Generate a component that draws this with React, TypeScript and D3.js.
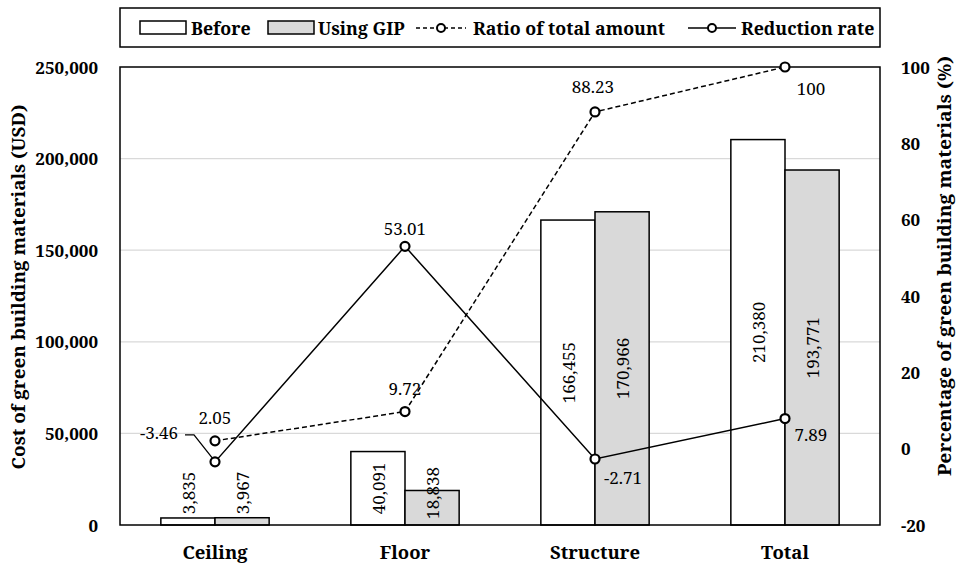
import React from "react";
import * as d3 from "d3";

const categories = ["Ceiling", "Floor", "Structure", "Total"];
const before = [3835, 40091, 166455, 210380];
const usingGIP = [3967, 18838, 170966, 193771];
const ratioTotal = [2.05, 9.72, 88.23, 100];
const reductionRate = [-3.46, 53.01, -2.71, 7.89];
const leftTicks = [0, 50000, 100000, 150000, 200000, 250000];
const rightTicks = [-20, 0, 20, 40, 60, 80, 100];

const W = 957, H = 568;
const M = { left: 120, right: 880, top: 67, bottom: 525 };
const FONT = "Noto Serif, Liberation Serif, serif";

export default function App() {
  const x = d3.scaleBand<string>().domain(categories).range([M.left, M.right]).paddingInner(0).paddingOuter(0);
  const yL = d3.scaleLinear().domain([0, 250000]).range([M.bottom, M.top]);
  const yR = d3.scaleLinear().domain([-20, 100]).range([M.bottom, M.top]);
  const bw = x.bandwidth() * 0.285;
  const cx = (c: string) => (x(c) as number) + x.bandwidth() / 2;
  const fmt = d3.format(",");

  const line = d3.line<number>().x((_, i) => cx(categories[i])).y((d) => yR(d));

  const ratioLab: [number, number, string][] = [[0, -21, "middle"], [0, -21, "middle"], [-2, -23, "middle"], [26, 23, "middle"]];
  const redLab: [number, number, string][] = [[-37, -27, "end"], [0, -16, "middle"], [28, 20, "middle"], [26, 18, "middle"]];

  const barLabelY = (v: number) => {
    const c = (yL(v) + yL(0)) / 2;
    return Math.min(c, yL(0) - 32);
  };

  return (
    <svg width={W} height={H} style={{ position: "absolute", left: 0, top: 0, background: "#fff", fontFamily: FONT }}>
      {leftTicks.slice(1, -1).map((t) => (
        <line key={t} x1={M.left} x2={M.right} y1={yL(t)} y2={yL(t)} stroke="#d9d9d9" strokeWidth={1.2} />
      ))}
      {categories.map((c, i) => (
        <g key={c}>
          <rect x={cx(c) - bw} y={yL(before[i])} width={bw} height={yL(0) - yL(before[i])} fill="#fff" stroke="#000" strokeWidth={1.5} />
          <rect x={cx(c)} y={yL(usingGIP[i])} width={bw} height={yL(0) - yL(usingGIP[i])} fill="#d9d9d9" stroke="#000" strokeWidth={1.5} />
        </g>
      ))}
      {categories.map((c, i) => (
        <g key={"bl" + c} style={{ fontSize: 17 }}>
          <text transform={`translate(${cx(c) - bw / 2 + 7},${barLabelY(before[i])}) rotate(-90)`} textAnchor="middle">{fmt(before[i])}</text>
          <text transform={`translate(${cx(c) + bw / 2 + 7},${barLabelY(usingGIP[i])}) rotate(-90)`} textAnchor="middle">{fmt(usingGIP[i])}</text>
        </g>
      ))}
      <rect x={M.left} y={M.top} width={M.right - M.left} height={M.bottom - M.top} fill="none" stroke="#000" strokeWidth={1.5} />
      <path d={line(ratioTotal) || ""} fill="none" stroke="#000" strokeWidth={1.5} strokeDasharray="5,3" />
      <path d={line(reductionRate) || ""} fill="none" stroke="#000" strokeWidth={1.5} />
      <polyline points={`${cx(categories[0]) - 30},${yR(reductionRate[0]) - 27} ${cx(categories[0]) - 21},${yR(reductionRate[0]) - 27} ${cx(categories[0]) - 2},${yR(reductionRate[0]) - 3}`} fill="none" stroke="#000" strokeWidth={1.3} />
      {ratioTotal.map((v, i) => (
        <circle key={"r" + i} cx={cx(categories[i])} cy={yR(v)} r={4.5} fill="#fff" stroke="#000" strokeWidth={2.2} />
      ))}
      {reductionRate.map((v, i) => (
        <circle key={"d" + i} cx={cx(categories[i])} cy={yR(v)} r={4.5} fill="#fff" stroke="#000" strokeWidth={2.2} />
      ))}
      {ratioTotal.map((v, i) => (
        <text key={"rl" + i} x={cx(categories[i]) + ratioLab[i][0]} y={yR(v) + ratioLab[i][1]} textAnchor={ratioLab[i][2] as any} style={{ fontSize: 17 }} dominantBaseline="middle">{v}</text>
      ))}
      {reductionRate.map((v, i) => (
        <text key={"dl" + i} x={cx(categories[i]) + redLab[i][0]} y={yR(v) + redLab[i][1]} textAnchor={redLab[i][2] as any} style={{ fontSize: 17 }} dominantBaseline="middle">{v}</text>
      ))}
      {leftTicks.map((t) => (
        <text key={"lt" + t} x={M.left - 22} y={yL(t)} textAnchor="end" dominantBaseline="central" style={{ fontSize: 17, fontWeight: "bold" }}>{fmt(t)}</text>
      ))}
      {rightTicks.map((t) => (
        <text key={"rt" + t} x={M.right + 21} y={yR(t)} textAnchor="start" dominantBaseline="central" style={{ fontSize: 17, fontWeight: "bold" }}>{t}</text>
      ))}
      {categories.map((c) => (
        <text key={"c" + c} x={cx(c)} y={M.bottom + 34} textAnchor="middle" style={{ fontSize: 18.5, fontWeight: "bold" }}>{c}</text>
      ))}
      <text transform={`translate(25,287) rotate(-90)`} textAnchor="middle" textLength={365} lengthAdjust="spacingAndGlyphs" style={{ fontSize: 18, fontWeight: "bold" }}>Cost of green building materials (USD)</text>
      <text transform={`translate(951,266) rotate(-90)`} textAnchor="middle" textLength={420} lengthAdjust="spacingAndGlyphs" style={{ fontSize: 18, fontWeight: "bold" }}>Percentage of green building materials (%)</text>
      <rect x={120} y={8} width={760} height={39} fill="#fff" stroke="#000" strokeWidth={1.5} />
      <g style={{ fontSize: 17.8, fontWeight: "bold" }}>
        <rect x={140} y={21} width={46} height={13} fill="#fff" stroke="#000" strokeWidth={1.5} />
        <text x={191} y={28} dominantBaseline="central">Before</text>
        <rect x={268} y={21} width={46} height={13} fill="#d9d9d9" stroke="#000" strokeWidth={1.5} />
        <text x={318} y={28} dominantBaseline="central">Using GIP</text>
        <line x1={416} x2={466} y1={28} y2={28} stroke="#000" strokeWidth={1.5} strokeDasharray="4,3" />
        <circle cx={441} cy={28} r={4} fill="#fff" stroke="#000" strokeWidth={2} />
        <text x={473} y={28} dominantBaseline="central">Ratio of total amount</text>
        <line x1={688} x2={736} y1={28} y2={28} stroke="#000" strokeWidth={1.5} />
        <circle cx={712} cy={28} r={4} fill="#fff" stroke="#000" strokeWidth={2} />
        <text x={741} y={28} dominantBaseline="central">Reduction rate</text>
      </g>
    </svg>
  );
}
